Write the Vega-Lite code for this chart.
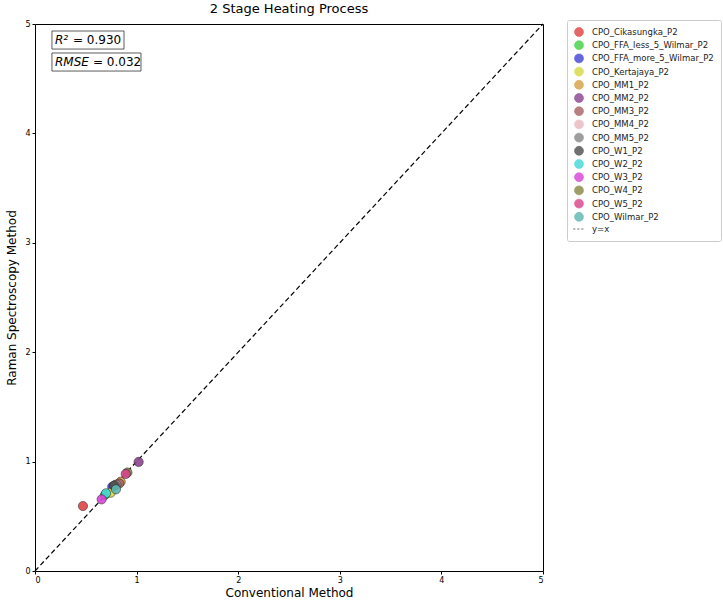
{
  "$schema": "https://vega.github.io/schema/vega-lite/v6.json",
  "width": 508,
  "height": 547,
  "autosize": {"type": "none"},
  "padding": {"left": 35, "top": 24, "right": 180, "bottom": 32},
  "background": "white",
  "title": {"text": "2 Stage Heating Process", "fontSize": 13, "fontWeight": "normal", "font": "DejaVu Sans", "color": "black", "offset": 4},
  "config": {
    "view": {"stroke": "black", "strokeWidth": 1},
    "font": "DejaVu Sans",
    "axis": {"grid": false, "domain": false, "tickColor": "black", "tickSize": 3, "labelFontSize": 8, "labelColor": "black", "labelPadding": 2, "titleFontSize": 12, "titleFontWeight": "normal", "titleColor": "black", "format": "d"}
  },
  "datasets": {
    "pts": [
      {"label": "CPO_Cikasungka_P2", "conv": 0.472, "raman": 0.594},
      {"label": "CPO_FFA_less_5_Wilmar_P2", "conv": 0.689, "raman": 0.695},
      {"label": "CPO_FFA_more_5_Wilmar_P2", "conv": 0.76, "raman": 0.77},
      {"label": "CPO_Kertajaya_P2", "conv": 0.745, "raman": 0.716},
      {"label": "CPO_MM1_P2", "conv": 0.843, "raman": 0.816},
      {"label": "CPO_MM2_P2", "conv": 1.02, "raman": 0.997},
      {"label": "CPO_MM3_P2", "conv": 0.83, "raman": 0.80},
      {"label": "CPO_MM4_P2", "conv": 0.80, "raman": 0.79},
      {"label": "CPO_MM5_P2", "conv": 0.79, "raman": 0.785},
      {"label": "CPO_W1_P2", "conv": 0.778, "raman": 0.78},
      {"label": "CPO_W2_P2", "conv": 0.699, "raman": 0.71},
      {"label": "CPO_W3_P2", "conv": 0.656, "raman": 0.655},
      {"label": "CPO_W4_P2", "conv": 0.91, "raman": 0.90},
      {"label": "CPO_W5_P2", "conv": 0.893, "raman": 0.887},
      {"label": "CPO_Wilmar_P2", "conv": 0.797, "raman": 0.747}
    ],
    "diag": [
      {"label": "y=x", "conv": 0, "raman": 0},
      {"label": "y=x", "conv": 5, "raman": 5}
    ],
    "boxes": [
      {"id": "r2", "ital": "R²", "rest": "= 0.930", "x1": 0.167, "x2": 0.876, "y1": 4.771, "y2": 4.936, "ty": 4.854},
      {"id": "rmse", "ital": "RMSE", "rest": "= 0.032", "x1": 0.167, "x2": 1.043, "y1": 4.570, "y2": 4.735, "ty": 4.652}
    ]
  },
  "layer": [
    {
      "data": {"name": "diag"},
      "mark": {"type": "line", "strokeDash": [5, 3], "strokeWidth": 1.2},
      "encoding": {
        "x": {"field": "conv", "type": "quantitative", "scale": {"domain": [0, 5], "nice": false}, "axis": {"title": "Conventional Method", "values": [0, 1, 2, 3, 4, 5], "titlePadding": 3}},
        "y": {"field": "raman", "type": "quantitative", "scale": {"domain": [0, 5], "nice": false}, "axis": {"title": "Raman Spectroscopy Method", "values": [0, 1, 2, 3, 4, 5], "titlePadding": 6}},
        "color": {"field": "label", "type": "nominal"}
      }
    },
    {
      "data": {"name": "pts"},
      "mark": {"type": "point", "filled": true, "size": 85, "opacity": 0.9, "stroke": "#222222", "strokeWidth": 0.6},
      "encoding": {
        "x": {"field": "conv", "type": "quantitative"},
        "y": {"field": "raman", "type": "quantitative"},
        "color": {
          "field": "label", "type": "nominal",
          "scale": {
            "domain": ["CPO_Cikasungka_P2", "CPO_FFA_less_5_Wilmar_P2", "CPO_FFA_more_5_Wilmar_P2", "CPO_Kertajaya_P2", "CPO_MM1_P2", "CPO_MM2_P2", "CPO_MM3_P2", "CPO_MM4_P2", "CPO_MM5_P2", "CPO_W1_P2", "CPO_W2_P2", "CPO_W3_P2", "CPO_W4_P2", "CPO_W5_P2", "CPO_Wilmar_P2", "y=x"],
            "range": ["#e04444", "#44d044", "#4444d8", "#d8d844", "#d8a044", "#8c4490", "#a86464", "#e8b8c0", "#888888", "#505050", "#44d8d8", "#d844d8", "#888844", "#d8448c", "#5cb8b0", "#000000"]
          },
          "legend": {
            "title": null, "orient": "none", "legendX": 532, "legendY": -4,
            "labelFontSize": 8.5, "labelColor": "#222222", "symbolSize": 80, "rowPadding": 1.2,
            "symbolStrokeColor": "#333333", "symbolStrokeWidth": 0.6, "symbolOpacity": 0.95,
            "strokeColor": "#cccccc", "padding": 7, "cornerRadius": 2, "fillColor": "white", "labelOffset": 8
          }
        },
        "shape": {
          "field": "label", "type": "nominal",
          "scale": {
            "domain": ["CPO_Cikasungka_P2", "CPO_FFA_less_5_Wilmar_P2", "CPO_FFA_more_5_Wilmar_P2", "CPO_Kertajaya_P2", "CPO_MM1_P2", "CPO_MM2_P2", "CPO_MM3_P2", "CPO_MM4_P2", "CPO_MM5_P2", "CPO_W1_P2", "CPO_W2_P2", "CPO_W3_P2", "CPO_W4_P2", "CPO_W5_P2", "CPO_Wilmar_P2", "y=x"],
            "range": ["circle", "circle", "circle", "circle", "circle", "circle", "circle", "circle", "circle", "circle", "circle", "circle", "circle", "circle", "circle", "M-1.3,0H-0.8M-0.4,0H0.1M0.5,0H1"]
          }
        }
      }
    },
    {
      "data": {"name": "boxes"},
      "mark": {"type": "rect", "fill": "white", "stroke": "#333333", "strokeWidth": 0.8},
      "encoding": {
        "x": {"field": "x1", "type": "quantitative"},
        "x2": {"field": "x2"},
        "y": {"field": "y1", "type": "quantitative"},
        "y2": {"field": "y2"}
      }
    },
    {
      "data": {"name": "boxes"},
      "mark": {"type": "text", "align": "left", "baseline": "middle", "fontSize": 12, "fontStyle": "italic", "dx": 3, "color": "black"},
      "encoding": {
        "x": {"field": "x1", "type": "quantitative"},
        "y": {"field": "ty", "type": "quantitative"},
        "text": {"field": "ital"}
      }
    },
    {
      "data": {"name": "boxes"},
      "transform": [{"filter": "datum.id == 'r2'"}],
      "mark": {"type": "text", "align": "left", "baseline": "middle", "fontSize": 12, "dx": 21, "color": "black"},
      "encoding": {
        "x": {"field": "x1", "type": "quantitative"},
        "y": {"field": "ty", "type": "quantitative"},
        "text": {"field": "rest"}
      }
    },
    {
      "data": {"name": "boxes"},
      "transform": [{"filter": "datum.id == 'rmse'"}],
      "mark": {"type": "text", "align": "left", "baseline": "middle", "fontSize": 12, "dx": 41, "color": "black"},
      "encoding": {
        "x": {"field": "x1", "type": "quantitative"},
        "y": {"field": "ty", "type": "quantitative"},
        "text": {"field": "rest"}
      }
    }
  ]
}
